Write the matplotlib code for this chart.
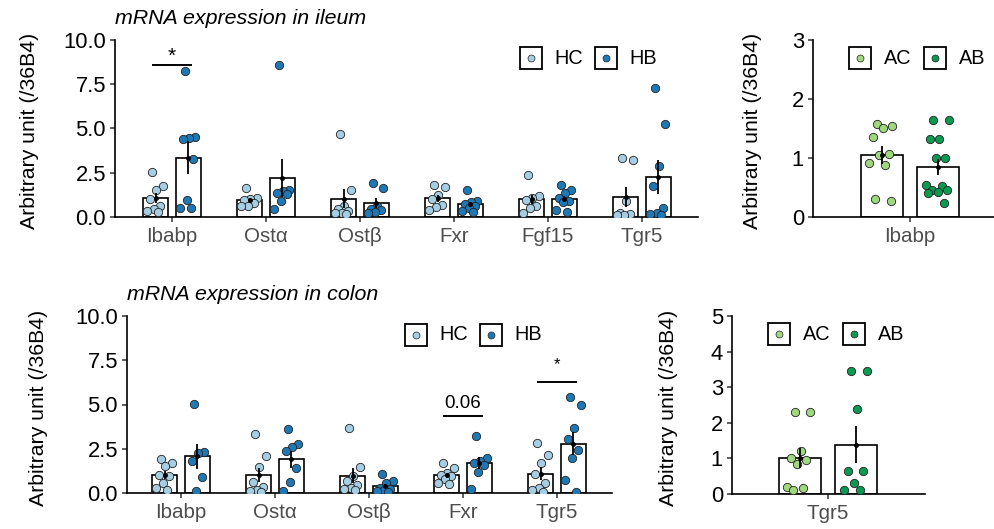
import numpy as np
import matplotlib
matplotlib.use("Agg")
import matplotlib.pyplot as plt

plt.rcParams['font.family'] = ['Liberation Sans', 'DejaVu Sans']

# ---------------- data ----------------
ileum_genes = ["Ibabp", "Ostα", "Ostβ", "Fxr", "Fgf15", "Tgr5"]
ileum_HC = [
    [2.55, 1.75, 1.5, 1.0, 0.6, 0.45, 0.35, 0.3],
    [1.65, 1.1, 1.0, 0.95, 0.8, 0.6, 0.6],
    [4.7, 1.55, 0.6, 0.45, 0.35, 0.25, 0.2, 0.15],
    [1.8, 1.7, 1.25, 1.0, 0.7, 0.55, 0.4],
    [2.4, 1.2, 1.05, 0.95, 0.6, 0.5, 0.25],
    [3.35, 3.2, 0.9, 0.2, 0.15, 0.1, 0.1],
]
ileum_HB = [
    [8.25, 4.5, 4.45, 4.4, 3.3, 0.95, 0.5, 0.5],
    [8.6, 1.55, 1.45, 1.35, 1.3, 0.9, 0.45],
    [1.9, 1.65, 0.6, 0.45, 0.4, 0.3, 0.2],
    [1.5, 0.9, 0.85, 0.75, 0.6, 0.5, 0.35, 0.3],
    [1.8, 1.5, 1.35, 1.1, 0.9, 0.85, 0.4, 0.3],
    [7.3, 5.25, 2.9, 1.75, 0.5, 0.25, 0.15, 0.1],
]
ileum_AC = [[1.58, 1.55, 1.5, 1.35, 1.07, 1.05, 0.92, 0.88, 0.3, 0.27]]
ileum_AB = [[1.65, 1.65, 1.33, 1.33, 1.0, 1.0, 0.55, 0.52, 0.45, 0.45, 0.42, 0.4, 0.24]]

colon_genes = ["Ibabp", "Ostα", "Ostβ", "Fxr", "Tgr5"]
colon_HC = [
    [1.9, 1.7, 1.55, 1.0, 0.95, 0.55, 0.3, 0.15],
    [3.35, 2.1, 1.45, 0.6, 0.35, 0.15, 0.1, 0.05],
    [3.7, 1.45, 0.95, 0.7, 0.45, 0.3, 0.2, 0.15],
    [1.7, 1.4, 1.15, 1.0, 0.95, 0.8, 0.55, 0.5],
    [2.8, 2.15, 1.7, 1.05, 0.55, 0.3, 0.15, 0.05],
]
colon_HB = [
    [5.05, 2.3, 2.25, 1.8, 0.9, 0.1],
    [3.6, 2.75, 2.6, 2.35, 1.4, 0.6, 0.1],
    [1.05, 0.7, 0.55, 0.3, 0.2, 0.15, 0.1, 0.05],
    [3.2, 2.0, 1.8, 1.7, 1.6, 1.2, 0.25],
    [5.45, 4.95, 3.65, 3.05, 2.45, 2.0, 0.75, 0.05],
]
colon_gene_right = ["Tgr5"]
colon_AC = [[2.3, 2.3, 1.2, 1.0, 0.95, 0.85, 0.2, 0.18, 0.1]]
colon_AB = [[3.45, 3.45, 2.4, 0.65, 0.65, 0.3, 0.12, 0.1]]

ileum_ticks = [0, 2.5, 5.0, 7.5, 10.0]
colon_ticks = [0, 2.5, 5.0, 7.5, 10.0]
ileum_right_ticks = [0, 1, 2, 3]
colon_right_ticks = [0, 1, 2, 3, 4, 5]

C_HC, C_HB = "#a6cee3", "#1f78b4"
C_AC, C_AB = "#9fd87f", "#0b9a52"

W, H = 994, 529
fig = plt.figure(figsize=(W / 100, H / 100), dpi=100)


def px_axes(l, r, t, b):
    return fig.add_axes([l / W, 1 - b / H, (r - l) / W, (b - t) / H])


def fx(x):
    return x / W


def fy(y):
    return 1 - y / H


def jitter(n):
    return ((np.arange(n) * 0.618034 + 0.3) % 1.0 - 0.5) * 2


def panel(ax, cats, groups, colors, offset, width, jit, ylim, ticks, fmt, xlim):
    x = np.arange(len(cats))
    for gi, (vals_list, col) in enumerate(zip(groups, colors)):
        pos = x + (-offset if gi == 0 else offset)
        means = np.array([np.mean(v) for v in vals_list])
        sems = np.array([np.std(v, ddof=1) / np.sqrt(len(v)) for v in vals_list])
        ax.bar(pos, means, width, facecolor="white", edgecolor="black",
               linewidth=1.2, zorder=2)
        for p, v in zip(pos, vals_list):
            v = np.asarray(v)
            ax.scatter(p + jitter(len(v)) * jit, v, s=36, c=col,
                       edgecolors="#222222", linewidths=0.6, zorder=3)
        ax.errorbar(pos, means, yerr=sems, fmt="o", ms=2.5, color="black",
                    elinewidth=1.3, capsize=0, zorder=4)
    ax.set_xlim(*xlim)
    ax.set_ylim(*ylim)
    ax.set_xticks(x)
    ax.set_xticklabels(cats)
    ax.set_yticks(ticks)
    ax.set_yticklabels([fmt.format(t) for t in ticks])
    for s in ["top", "right"]:
        ax.spines[s].set_visible(False)
    for s in ["left", "bottom"]:
        ax.spines[s].set_linewidth(1.2)
        ax.spines[s].set_color("black")
    ax.spines["left"].set_bounds(ylim[0], ylim[1])
    ax.tick_params(axis="x", length=3.5, width=1.1, pad=4, labelsize=14.8,
                   labelcolor="#4d4d4d", color="#333333")
    ax.tick_params(axis="y", length=3.5, width=1.1, pad=3, labelsize=15.8,
                   labelcolor="black", color="#333333")
    ax.set_facecolor("none")


def legend(ax, x0, y0, labels, colors):
    for i, (lab, col) in enumerate(zip(labels, colors)):
        cx = x0 + i * 75
        fig.lines.append(plt.Line2D([fx(cx)], [fy(y0)], transform=fig.transFigure,
                                    marker="s", ms=15.5, mfc="white", mec="black",
                                    mew=1.3, ls="none"))
        fig.lines.append(plt.Line2D([fx(cx)], [fy(y0)], transform=fig.transFigure,
                                    marker="o", ms=5, mfc=col, mec="#222222",
                                    mew=0.5, ls="none"))
        fig.text(fx(cx + 24), fy(y0), lab, ha="left", va="center", fontsize=14.3)


def sig(ax, i, y, txt, ty, size):
    ax.plot([i - 0.2, i + 0.2], [y, y], color="black", lw=1.4, zorder=5)
    ax.text(i, ty, txt, ha="center", va="baseline", fontsize=size, zorder=5)


# top-left: ileum
ax1 = px_axes(115, 698, 40, 217)
panel(ax1, ileum_genes, [ileum_HC, ileum_HB], [C_HC, C_HB], 0.175, 0.26, 0.09,
      (0, 10), ileum_ticks, "{:.1f}", (-0.606, 5.596))
sig(ax1, 0, 8.6, "*", 8.75, 15)
legend(ax1, 530.5, 58, ["HC", "HB"], [C_HC, C_HB])

# top-right
ax2 = px_axes(813, 1007, 40, 217)
panel(ax2, ["Ibabp"], [ileum_AC, ileum_AB], [C_AC, C_AB], 0.27, 0.4, 0.12,
      (0, 3), ileum_right_ticks, "{:d}", (-0.924, 0.924))
legend(ax2, 860, 58, ["AC", "AB"], [C_AC, C_AB])

# bottom-left: colon
ax3 = px_axes(127, 612, 316, 493)
panel(ax3, colon_genes, [colon_HC, colon_HB], [C_HC, C_HB], 0.175, 0.265, 0.09,
      (0, 10), colon_ticks, "{:.1f}", (-0.574, 4.585))
sig(ax3, 3, 4.35, "0.06", 4.8, 13.5)
sig(ax3, 4, 6.26, "*", 7.0, 12)
legend(ax3, 415.5, 334.5, ["HC", "HB"], [C_HC, C_HB])

# bottom-right
ax4 = px_axes(732, 925, 316, 494)
panel(ax4, colon_gene_right, [colon_AC, colon_AB], [C_AC, C_AB], 0.27, 0.4, 0.12,
      (0, 5), colon_right_ticks, "{:d}", (-0.914, 0.924))
legend(ax4, 778.5, 334, ["AC", "AB"], [C_AC, C_AB])

# y labels
for x, y in [(30, 131), (752, 131), (39, 408), (669, 408)]:
    fig.text(fx(x), fy(y), "Arbitrary unit (/36B4)", rotation=90, ha="center",
             va="center", fontsize=15.3)

# titles
fig.text(fx(115), fy(18), "mRNA expression in ileum", ha="left", va="center",
         fontsize=15.4, style="italic")
fig.text(fx(127), fy(294), "mRNA expression in colon", ha="left", va="center",
         fontsize=15.4, style="italic")

fig.savefig("out.png", dpi=100)
